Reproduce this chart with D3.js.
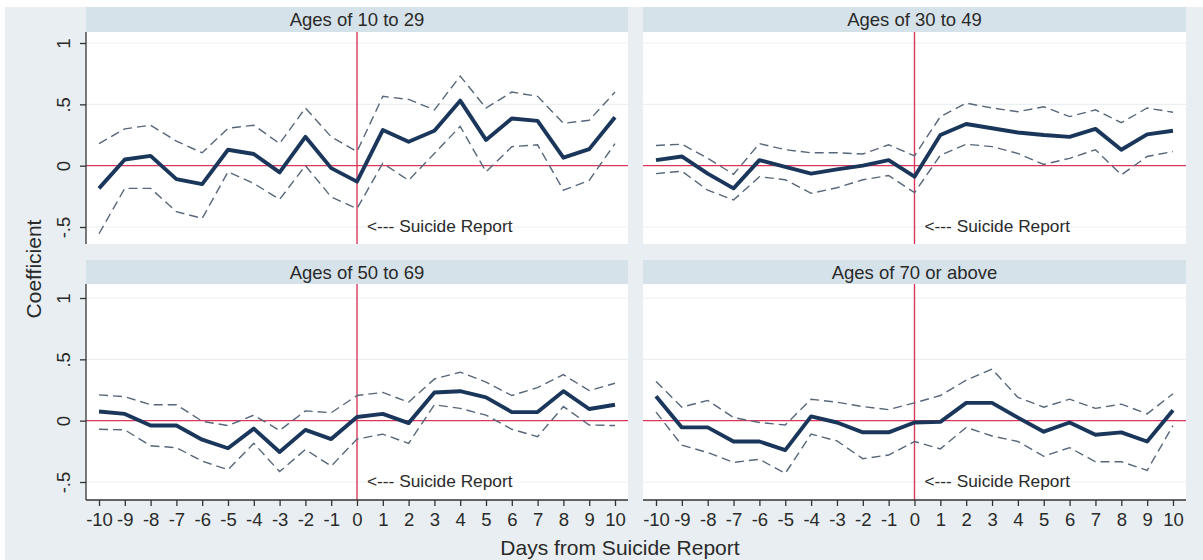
<!DOCTYPE html>
<html>
<head>
<meta charset="utf-8">
<script src="https://cdn.jsdelivr.net/npm/d3@7"></script>
<style>
  html, body { margin: 0; padding: 0; background: #ffffff; }
  svg { display: block; font-family: "Liberation Sans", Arial, sans-serif; }
</style>
</head>
<body>
<svg id="chart" width="1203" height="560"></svg>
<script>
// ---------------- data ----------------
const days = [-10, -9, -8, -7, -6, -5, -4, -3, -2, -1, 0, 1, 2, 3, 4, 5, 6, 7, 8, 9, 10];
const xTickLabels = ["-10","-9","-8","-7","-6","-5","-4","-3","-2","-1","0","1","2","3","4","5","6","7","8","9","10"];
const yTicks = [1, 0.5, 0, -0.5];
const yTickLabels = ["1", ".5", "0", "-.5"];
const panelTitles = ["Ages of 10 to 29", "Ages of 30 to 49", "Ages of 50 to 69", "Ages of 70 or above"];

const coef1029  = [-0.185, 0.05, 0.08, -0.11, -0.15, 0.13, 0.095, -0.055, 0.235, -0.02, -0.13, 0.29, 0.195, 0.285, 0.53, 0.21, 0.385, 0.365, 0.065, 0.135, 0.395];
const upper1029 = [0.18, 0.3, 0.33, 0.2, 0.105, 0.305, 0.33, 0.18, 0.47, 0.235, 0.115, 0.565, 0.54, 0.455, 0.73, 0.47, 0.6, 0.565, 0.345, 0.37, 0.6];
const lower1029 = [-0.555, -0.185, -0.185, -0.375, -0.43, -0.05, -0.145, -0.275, 0.0, -0.255, -0.35, 0.02, -0.12, 0.1, 0.32, -0.05, 0.155, 0.17, -0.2, -0.12, 0.18];

const coef3049  = [0.045, 0.075, -0.065, -0.185, 0.045, -0.01, -0.065, -0.03, 0.0, 0.045, -0.09, 0.25, 0.34, 0.305, 0.27, 0.25, 0.235, 0.3, 0.13, 0.255, 0.285];
const upper3049 = [0.165, 0.175, 0.06, -0.07, 0.18, 0.13, 0.105, 0.105, 0.095, 0.17, 0.08, 0.4, 0.51, 0.47, 0.44, 0.48, 0.4, 0.455, 0.35, 0.47, 0.435];
const lower3049 = [-0.065, -0.045, -0.2, -0.28, -0.09, -0.115, -0.225, -0.18, -0.115, -0.08, -0.22, 0.085, 0.175, 0.155, 0.1, 0.01, 0.06, 0.13, -0.075, 0.075, 0.115];

const coef5069  = [0.075, 0.055, -0.04, -0.04, -0.155, -0.225, -0.065, -0.255, -0.075, -0.15, 0.03, 0.055, -0.02, 0.23, 0.24, 0.19, 0.07, 0.07, 0.24, 0.095, 0.13];
const upper5069 = [0.21, 0.195, 0.13, 0.13, -0.005, -0.04, 0.045, -0.08, 0.08, 0.065, 0.205, 0.23, 0.15, 0.34, 0.395, 0.315, 0.205, 0.27, 0.375, 0.245, 0.305];
const lower5069 = [-0.07, -0.075, -0.205, -0.22, -0.33, -0.4, -0.185, -0.415, -0.235, -0.37, -0.15, -0.11, -0.185, 0.13, 0.1, 0.045, -0.07, -0.13, 0.115, -0.035, -0.04];

const coef70    = [0.2, -0.055, -0.055, -0.17, -0.17, -0.24, 0.035, -0.015, -0.095, -0.095, -0.015, -0.01, 0.145, 0.145, 0.025, -0.09, -0.015, -0.115, -0.095, -0.17, 0.085];
const upper70   = [0.32, 0.11, 0.165, 0.025, -0.015, -0.035, 0.175, 0.15, 0.115, 0.09, 0.145, 0.205, 0.33, 0.42, 0.19, 0.11, 0.175, 0.1, 0.135, 0.055, 0.22];
const lower70   = [0.07, -0.2, -0.26, -0.34, -0.315, -0.43, -0.11, -0.165, -0.31, -0.28, -0.17, -0.23, -0.055, -0.125, -0.17, -0.29, -0.22, -0.335, -0.335, -0.405, -0.04];

const annotation = "<--- Suicide Report";
const yTitle = "Coefficient";
const xTitle = "Days from Suicide Report";

// ---------------- layout ----------------
const svg = d3.select("#chart");
const W = 1203, H = 560;

svg.append("rect").attr("x", 0).attr("y", 0).attr("width", W).attr("height", H).attr("fill", "#ffffff");
svg.append("rect").attr("x", 5).attr("y", 7).attr("width", W - 5).attr("height", H - 7).attr("fill", "#e8eef1");

const cols = [{ x0: 86, x1: 628 }, { x0: 643, x1: 1186 }];
const rows = [
  { band0: 7, band1: 32, y0: 32, y1: 244, yTop: 43, yBot: 227 },
  { band0: 260, band1: 284, y0: 284, y1: 500, yTop: 298, yBot: 482 }
];

const panels = [
  { title: panelTitles[0], coef: coef1029, upper: upper1029, lower: lower1029, col: 0, row: 0 },
  { title: panelTitles[1], coef: coef3049, upper: upper3049, lower: lower3049, col: 1, row: 0 },
  { title: panelTitles[2], coef: coef5069, upper: upper5069, lower: lower5069, col: 0, row: 1 },
  { title: panelTitles[3], coef: coef70,   upper: upper70,   lower: lower70,   col: 1, row: 1 }
];

const textColor = "#2a2a2a";

panels.forEach(p => {
  const c = cols[p.col], r = rows[p.row];
  const x = d3.scaleLinear().domain([-10, 10]).range([c.x0 + 13, c.x1 - 13]);
  const y = d3.scaleLinear().domain([-0.5, 1]).range([r.yBot, r.yTop]);
  const g = svg.append("g");

  // title band
  g.append("rect").attr("x", c.x0).attr("y", r.band0).attr("width", c.x1 - c.x0).attr("height", r.band1 - r.band0).attr("fill", "#d6e2e9");
  g.append("text").attr("x", (c.x0 + c.x1) / 2).attr("y", (r.band0 + r.band1) / 2 + 6.5)
    .attr("text-anchor", "middle").attr("font-size", 18.5).attr("fill", textColor).text(p.title);

  // plot area
  g.append("rect").attr("x", c.x0).attr("y", r.y0).attr("width", c.x1 - c.x0).attr("height", r.y1 - r.y0).attr("fill", "#ffffff");

  // grid lines
  g.selectAll(".grid").data(yTicks.filter(v => v !== 0)).enter().append("line")
    .attr("x1", c.x0).attr("x2", c.x1).attr("y1", d => y(d)).attr("y2", d => y(d))
    .attr("stroke", "#eceff1").attr("stroke-width", 1.2);

  // reference lines
  g.append("line").attr("x1", c.x0).attr("x2", c.x1).attr("y1", y(0)).attr("y2", y(0))
    .attr("stroke", "#d9385a").attr("stroke-width", 1.4);
  g.append("line").attr("x1", x(0)).attr("x2", x(0)).attr("y1", r.y0).attr("y2", r.y1)
    .attr("stroke", "#d9385a").attr("stroke-width", 1.4);

  const line = d3.line().x((d, i) => x(days[i])).y(d => y(d));

  [p.upper, p.lower].forEach(s => {
    g.append("path").attr("d", line(s)).attr("fill", "none")
      .attr("stroke", "#56677a").attr("stroke-width", 1.4).attr("stroke-dasharray", "9,5");
  });
  g.append("path").attr("d", line(p.coef)).attr("fill", "none")
    .attr("stroke", "#1a375b").attr("stroke-width", 3.9).attr("stroke-linejoin", "round");

  // annotation
  g.append("text").attr("x", x(0) + 10).attr("y", r.yBot + 5)
    .attr("font-size", 17.3).attr("fill", textColor).text(annotation);

  // y axis on left column
  if (p.col === 0) {
    const ya = d3.axisLeft(y).tickValues(yTicks).tickSize(6).tickFormat((d, i) => yTickLabels[i]);
    const ag = g.append("g").attr("transform", `translate(${c.x0},0)`).call(ya);
    ag.select(".domain").attr("d", `M0,${r.y0}V${r.y1}`).attr("stroke", "#333").attr("stroke-width", 1.3);
    ag.selectAll(".tick line").attr("stroke", "#333").attr("stroke-width", 1.3);
    ag.selectAll(".tick text").attr("font-size", 18.5).attr("fill", textColor)
      .attr("font-family", "Liberation Sans, Arial, sans-serif")
      .attr("text-anchor", "middle")
      .attr("transform", "translate(-22,0) rotate(-90)").attr("x", 0).attr("y", 0).attr("dy", "0.35em");
  }

  // x axis on bottom row
  if (p.row === 1) {
    const xa = d3.axisBottom(x).tickValues(days).tickSize(6).tickFormat((d, i) => xTickLabels[i]);
    const ag = g.append("g").attr("transform", `translate(0,${r.y1})`).call(xa);
    ag.select(".domain").attr("d", `M${c.x0},0H${c.x1}`).attr("stroke", "#333").attr("stroke-width", 1.3);
    ag.selectAll(".tick line").attr("stroke", "#333").attr("stroke-width", 1.3);
    ag.selectAll(".tick text").attr("font-size", 18.5).attr("fill", textColor)
      .attr("font-family", "Liberation Sans, Arial, sans-serif").attr("y", 13);
  }
});

// axis titles
svg.append("text").attr("transform", "translate(41,269) rotate(-90)").attr("text-anchor", "middle")
  .attr("font-size", 21).attr("fill", textColor).text(yTitle);
svg.append("text").attr("x", 620).attr("y", 555).attr("text-anchor", "middle")
  .attr("font-size", 21).attr("fill", textColor).text(xTitle);
</script>
</body>
</html>
